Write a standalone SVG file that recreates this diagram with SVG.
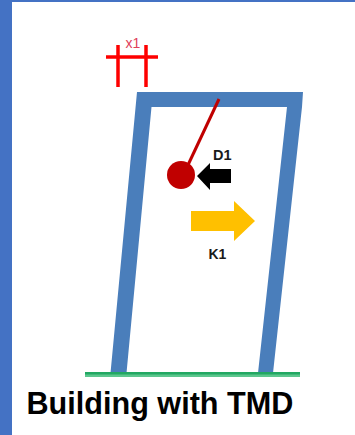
<svg xmlns="http://www.w3.org/2000/svg" width="355" height="435" viewBox="0 0 355 435">
<style>
.lbl{font-family:"Liberation Sans",Arial,sans-serif;}
.red{stroke:#fe0000;stroke-width:3.5;fill:none;}
</style>
<rect width="355" height="435" fill="#ffffff"/>
<g id="frame-border">
<rect x="0" y="0" width="12" height="435" fill="#4472c4"/>
<rect x="0" y="0" width="355" height="2" fill="#4472c4"/>
</g>
<g id="building">
<path d="M137 92 H303 L302 107 L273 373 H258 L287 107 H151.500 L126.500 373 H110.500 Z" fill="#4a7ebb"/>
</g>
<g id="ground">
<rect x="85" y="372" width="215" height="5" fill="#5cc78e"/>
<rect x="85" y="372" width="215" height="2.500" fill="#22a862"/>
</g>
<g id="x1-marker">
<path class="red" d="M106 57 H158 M118 45 V87 M146 45 V87"/>
<text class="lbl" x="125.500" y="48" font-size="14" fill="#e0405a">x1</text>
</g>
<g id="tmd">
<path d="M219 99 L188 165" stroke="#c00000" stroke-width="3" fill="none"/>
<circle cx="181" cy="175" r="14" fill="#c00000"/>
</g>
<g id="d1">
<path d="M197 176 L210 163 V169 H231 V183 H210 V190 Z" fill="#000000"/>
<text class="lbl" x="213" y="160" font-size="14.500" font-weight="bold" fill="#1a1a1a">D1</text>
</g>
<g id="k1">
<path d="M191 211 H234 V201 L255 221 L234 241 V231 H191 Z" fill="#ffc000"/>
<text class="lbl" x="208.500" y="259" font-size="14" font-weight="bold" fill="#1a1a1a">K1</text>
</g>
<g id="caption">
<text class="lbl" x="26.500" y="414" font-size="30.600" font-weight="bold" fill="#000000">Building with TMD</text>
</g>
</svg>
